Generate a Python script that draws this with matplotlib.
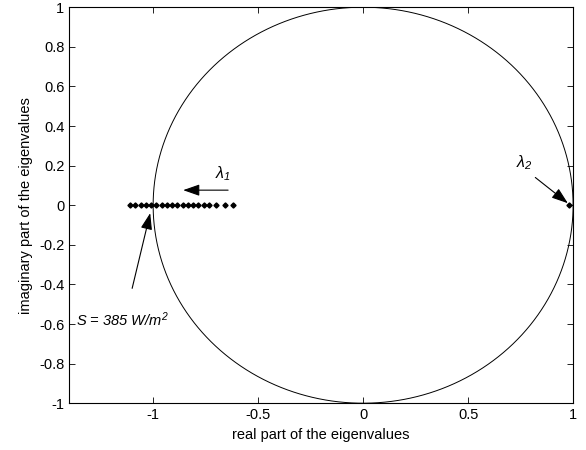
import numpy as np
import matplotlib
matplotlib.use("Agg")
import matplotlib.pyplot as plt

plt.rcParams['font.family'] = ['Liberation Sans', 'DejaVu Sans']
plt.rcParams['mathtext.fontset'] = 'custom'
plt.rcParams['mathtext.it'] = 'Liberation Sans:italic'
plt.rcParams['mathtext.rm'] = 'Liberation Sans:italic'

# eigenvalue data
lambda1_real = [-1.11, -1.085, -1.06, -1.035, -1.01, -0.985, -0.96, -0.935, -0.91,
                -0.885, -0.86, -0.835, -0.81, -0.785, -0.76, -0.735, -0.70, -0.66, -0.62]
lambda1_imag = [0.0] * len(lambda1_real)
lambda2_real = [0.98]
lambda2_imag = [0.0]

xticks = [-1, -0.5, 0, 0.5, 1]
xticklabels = ['-1', '-0.5', '0', '0.5', '1']
yticks = [-1, -0.8, -0.6, -0.4, -0.2, 0, 0.2, 0.4, 0.6, 0.8, 1]
yticklabels = ['-1', '-0.8', '-0.6', '-0.4', '-0.2', '0', '0.2', '0.4', '0.6', '0.8', '1']

fig = plt.figure(figsize=(5.86, 4.5), dpi=100)
ax = fig.add_axes([0.118, 0.104, 0.860, 0.880])

theta = np.linspace(0, 2 * np.pi, 600)
ax.plot(np.cos(theta), np.sin(theta), color='black', lw=0.7)

ax.plot(lambda1_real, lambda1_imag, linestyle='none', marker='D', ms=2.6,
        color='black')
ax.plot(lambda2_real, lambda2_imag, linestyle='none', marker='D', ms=2.6,
        color='black')

ax.set_xlim(-1.4, 1.0)
ax.set_ylim(-1, 1)
ax.set_xticks(xticks)
ax.set_xticklabels(xticklabels)
ax.set_yticks(yticks)
ax.set_yticklabels(yticklabels)
ax.tick_params(direction='in', top=True, right=True, length=4, width=0.6,
               labelsize=10.5, colors='black')
for s in ax.spines.values():
    s.set_linewidth(0.8)

ax.set_xlabel('real part of the eigenvalues', fontsize=10.5)
ax.set_ylabel('imaginary part of the eigenvalues', fontsize=10.5)

arrow = dict(arrowstyle='-|>,head_length=1.0,head_width=0.35', color='black',
             lw=0.8, shrinkA=0, shrinkB=0)

# lambda1
ax.text(-0.667, 0.157, r'$\lambda_1$', fontsize=11.5, ha='center', va='center')
ax.annotate('', xy=(-0.857, 0.076), xytext=(-0.643, 0.076), arrowprops=arrow)

# lambda2
ax.text(0.77, 0.215, r'$\lambda_2$', fontsize=11.5, ha='center', va='center')
ax.annotate('', xy=(0.975, 0.01), xytext=(0.82, 0.14), arrowprops=arrow)

# S annotation
ax.annotate('', xy=(-1.014, -0.04), xytext=(-1.10, -0.42), arrowprops=arrow)
ax.text(-1.365, -0.58, r'S = 385 $W/m^2$', fontsize=10.5, ha='left',
        va='center', style='italic')

fig.savefig('out.png', dpi=100)
